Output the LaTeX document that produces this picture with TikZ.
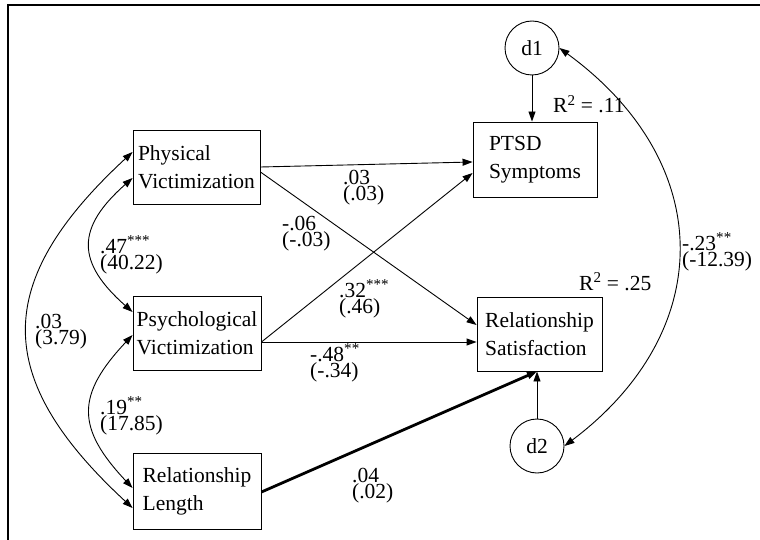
\documentclass[tikz,border=0pt]{standalone}
\usepackage{fontspec}
\setmainfont{Liberation Serif}[Ligatures=TeX]
\newfontfamily\tnr{Liberation Serif}
\usetikzlibrary{arrows.meta,calc}
\begin{document}
\begin{tikzpicture}[x=1pt,y=-1pt,
  box/.style={draw, line width=0.9pt, align=left, inner sep=0pt, font=\tnr\fontsize{21.5}{28}\selectfont},
  circ/.style={draw, circle, line width=0.9pt, minimum size=54pt, inner sep=0pt, font=\tnr\fontsize{21.5}{28}\selectfont},
  lab/.style={anchor=base west, align=left, inner sep=0pt, font=\tnr\fontsize{21.5}{16.5}\selectfont},
  conn/.style={line width=0.9pt, -{Triangle[length=10pt,width=7pt]}},
  biconn/.style={line width=0.9pt, {Triangle[length=10pt,width=7pt]}-{Triangle[length=10pt,width=7pt]}},
]
\useasboundingbox (0,0) rectangle (760,540);
\draw[line width=1.3pt] (8,540) -- (8,5) -- (760,5);

\node[box, minimum width=127pt, minimum height=74pt] (phys) at (196.5,167) {Physical\\Victimization};
\node[box, minimum width=128pt, minimum height=74pt] (psych) at (197,333) {Psychological\\Victimization};
\node[box, minimum width=128pt, minimum height=76pt] (len) at (197,491) {Relationship\\Length};
\node[box, minimum width=124pt, minimum height=75pt] (ptsd) at (535,159.5) {PTSD\\Symptoms};
\node[box, minimum width=125pt, minimum height=74pt] (rs) at (539.5,334) {Relationship\\Satisfaction};
\node[circ] (d1) at (532,48) {d1};
\node[circ] (d2) at (537,446) {d2};

\draw[conn] (phys.east) -- ($(ptsd.west)+(0,2.5)$);
\draw[conn] ($(phys.east)+(0,5)$) -- ($(rs.west)+(0,-9)$);
\draw[conn] ($(psych.east)+(0,9)$) -- ($(ptsd.west)+(0,13.5)$);
\draw[conn] ($(psych.east)+(0,9)$) -- ($(rs.west)+(0,8)$);
\draw[conn, line width=2.8pt] ($(len.east)+(0,1)$) -- (d2.north |- rs.south);
\draw[conn] (d1.south) -- (d1.south |- ptsd.north);
\draw[conn] (d2.north) -- (d2.north |- rs.south);

\draw[biconn] ($(phys.west)+(0,-15)$) .. controls (-8,282) and (-8,378) .. ($(len.west)+(0,17)$);
\draw[biconn] ($(phys.west)+(0,11)$) .. controls (76,228) and (76,262) .. ($(psych.west)+(0,-21)$);
\draw[biconn] ($(psych.west)+(0,2)$) .. controls (76,395) and (76,428) .. ($(len.west)+(0,-3)$);
\draw[biconn] (d1.east) .. controls (717,163) and (717,331) .. (d2.east);

\node[lab] (l1) at (343,200.5) {.03\\(.03)};
\node[lab] (l2) at (282,246.5) {-.06\\(-.03)};
\node[lab] (l3) at (339,313.5) {.32\textsuperscript{***}\\(.46)};
\node[lab] (l4) at (310,377.5) {-.48\textsuperscript{**}\\(-.34)};
\node[lab] (l5) at (100,269.5) {.47\textsuperscript{***}\\(40.22)};
\node[lab] (l6) at (100,430.5) {.19\textsuperscript{**}\\(17.85)};
\node[lab] (l7) at (35,344.5) {.03\\(3.79)};
\node[lab] (l8) at (352,498.5) {.04\\(.02)};
\node[lab] (l9) at (682,266.5) {-.23\textsuperscript{**}\\(-12.39)};
\node[lab] (r1) at (553,113) {R\textsuperscript{2} = .11};
\node[lab] (r2) at (579,290) {R\textsuperscript{2} = .25};
\end{tikzpicture}
\end{document}
